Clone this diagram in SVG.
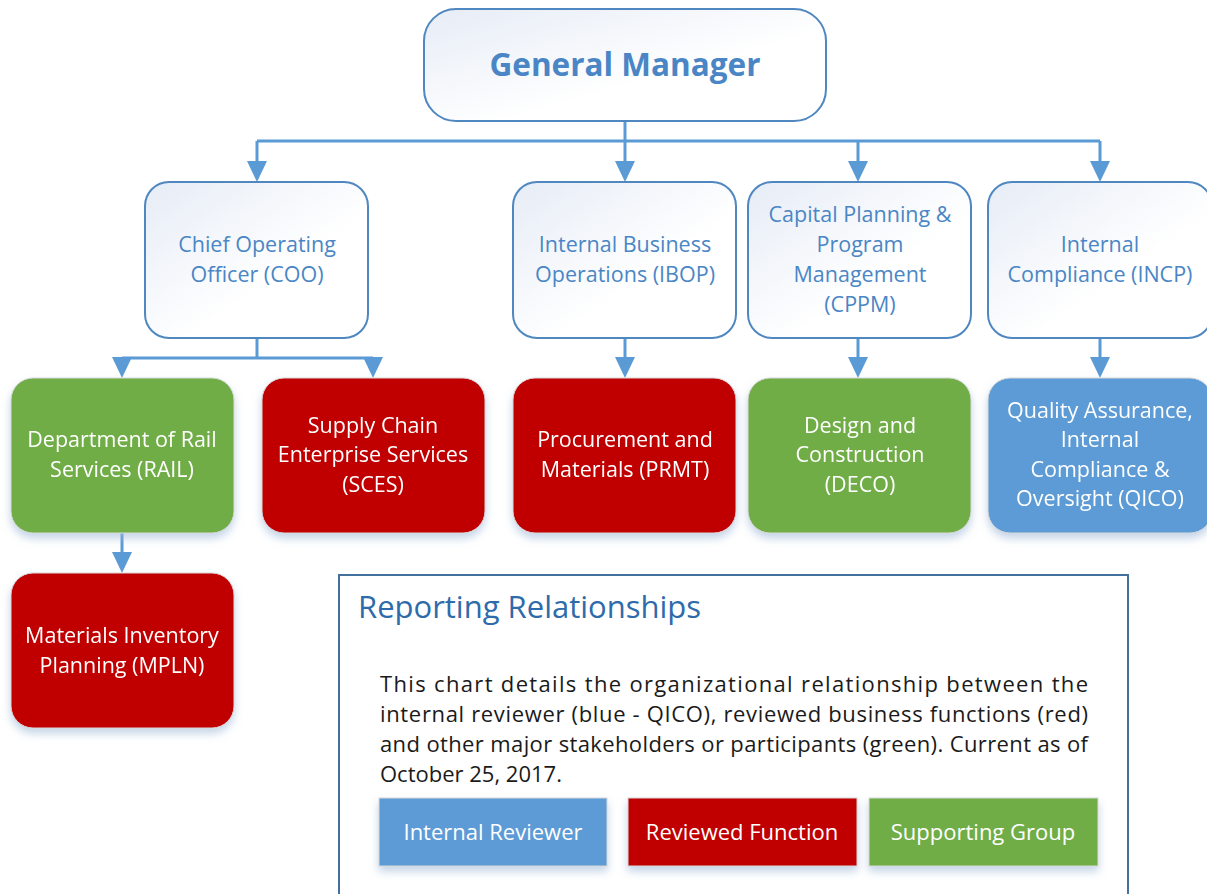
<svg xmlns="http://www.w3.org/2000/svg" width="1207" height="894" viewBox="0 0 1207 894">
<style>
.top{fill:url(#g);stroke:#4F87C0;stroke-width:2}
.tt{font-family:"Open Sans","Noto Sans",sans-serif;font-size:21.5px;fill:#4A86C5;text-anchor:middle}
.ct{font-family:"Open Sans","Noto Sans",sans-serif;font-size:21.5px;fill:#fff;text-anchor:middle}
.lt{font-family:"Open Sans","Noto Sans",sans-serif;font-size:22px;fill:#fff;text-anchor:middle}
.red{fill:#C00000;stroke:#D9D9D9;stroke-width:1}
.grn{fill:#70AD47;stroke:#D9D9D9;stroke-width:1}
.blu{fill:#5B9BD5;stroke:#D9D9D9;stroke-width:1}
.ln{fill:none;stroke:#5B9BD5;stroke-width:3}
.para{font-family:"Open Sans","Noto Sans",sans-serif;font-size:22px;fill:#1a1a1a}
</style>
<defs>
<linearGradient id="g" x1="0" y1="0" x2="1" y2="1">
<stop offset="0" stop-color="#E6ECF6"/>
<stop offset="0.6" stop-color="#FFFFFF"/>
</linearGradient>
<filter id="sh" x="-10%" y="-10%" width="120%" height="130%">
<feGaussianBlur in="SourceAlpha" stdDeviation="4"/>
<feOffset dx="0" dy="5" result="b"/>
<feFlood flood-color="#9DB7D8" flood-opacity="0.6"/>
<feComposite in2="b" operator="in"/>
<feMerge><feMergeNode/><feMergeNode in="SourceGraphic"/></feMerge>
</filter>
</defs>
<rect width="1207" height="894" fill="#fff"/>
<g id="connectors">
<path class="ln" d="M625,121 V141 M257,141 H1100"/>
<path class="ln" d="M257,141 V164 M625,141 V164 M858,141 V164 M1100,141 V164"/>
<path class="ln" d="M257,338 V358 M122,358 H373"/>
<path class="ln" d="M625,338 V360 M858,338 V360 M1100,338 V360 M122,533 V555"/>
<g fill="#5B9BD5">
<path d="M247,161 H267 L257,182 Z"/><path d="M615,161 H635 L625,182 Z"/><path d="M848,161 H868 L858,182 Z"/><path d="M1090,161 H1110 L1100,182 Z"/>
<path d="M112,357 H132 L122,378 Z"/><path d="M363,357 H383 L373,378 Z"/><path d="M615,357 H635 L625,378 Z"/><path d="M848,357 H868 L858,378 Z"/><path d="M1090,357 H1110 L1100,378 Z"/>
<path d="M112,552 H132 L122,573 Z"/>
</g>
</g>
<g id="gm">
<rect class="top" x="424" y="9" width="402" height="112" rx="32"/>
<text x="625" y="76" text-anchor="middle" font-family="'Open Sans','Noto Sans',sans-serif" font-size="31.5" font-weight="bold" fill="#4A86C5">General Manager</text>
</g>
<g id="coo">
<rect class="top" x="145" y="182" width="223" height="156" rx="24"/>
<text class="tt" x="257" y="252">Chief Operating</text>
<text class="tt" x="257" y="282">Officer (COO)</text>
</g>
<g id="ibop">
<rect class="top" x="513" y="182" width="223" height="156" rx="24"/>
<text class="tt" x="625" y="252">Internal Business</text>
<text class="tt" x="625" y="282">Operations (IBOP)</text>
</g>
<g id="cppm">
<rect class="top" x="748" y="182" width="223" height="156" rx="24"/>
<text class="tt" x="860" y="222">Capital Planning &amp;</text>
<text class="tt" x="860" y="252">Program</text>
<text class="tt" x="860" y="282">Management</text>
<text class="tt" x="860" y="312">(CPPM)</text>
</g>
<g id="incp">
<rect class="top" x="988" y="182" width="224" height="156" rx="24"/>
<text class="tt" x="1100" y="252">Internal</text>
<text class="tt" x="1100" y="282">Compliance (INCP)</text>
</g>
<g id="rail" filter="url(#sh)">
<rect class="grn" x="11" y="378" width="223" height="155" rx="22"/>
<text class="ct" x="122" y="447">Department of Rail</text>
<text class="ct" x="122" y="477">Services (RAIL)</text>
</g>
<g id="sces" filter="url(#sh)">
<rect class="red" x="262" y="378" width="223" height="155" rx="22"/>
<text class="ct" x="373" y="433">Supply Chain</text>
<text class="ct" x="373" y="462">Enterprise Services</text>
<text class="ct" x="373" y="492">(SCES)</text>
</g>
<g id="prmt" filter="url(#sh)">
<rect class="red" x="513" y="378" width="223" height="155" rx="22"/>
<text class="ct" x="625" y="447">Procurement and</text>
<text class="ct" x="625" y="477">Materials (PRMT)</text>
</g>
<g id="deco" filter="url(#sh)">
<rect class="grn" x="748" y="378" width="223" height="155" rx="22"/>
<text class="ct" x="860" y="433">Design and</text>
<text class="ct" x="860" y="462">Construction</text>
<text class="ct" x="860" y="492">(DECO)</text>
</g>
<g id="qico" filter="url(#sh)">
<rect class="blu" x="988" y="378" width="224" height="155" rx="22"/>
<text class="ct" x="1100" y="418">Quality Assurance,</text>
<text class="ct" x="1100" y="447">Internal</text>
<text class="ct" x="1100" y="477">Compliance &amp;</text>
<text class="ct" x="1100" y="506">Oversight (QICO)</text>
</g>
<g id="mpln" filter="url(#sh)">
<rect class="red" x="11" y="573" width="223" height="155" rx="22"/>
<text class="ct" x="122" y="643">Materials Inventory</text>
<text class="ct" x="122" y="673">Planning (MPLN)</text>
</g>
<g id="legend">
<rect x="339" y="575" width="789" height="330" fill="#fff" stroke="#41719C" stroke-width="2"/>
<text x="358" y="618" font-family="'Open Sans','Noto Sans',sans-serif" font-size="31" fill="#2E6BAA">Reporting Relationships</text>
<text class="para" x="380" y="692" textLength="708" lengthAdjust="spacing">This chart details the organizational relationship between the</text>
<text class="para" x="380" y="722" textLength="708" lengthAdjust="spacing">internal reviewer (blue - QICO), reviewed business functions (red)</text>
<text class="para" x="380" y="752" textLength="708" lengthAdjust="spacing">and other major stakeholders or participants (green). Current as of</text>
<text class="para" x="380" y="782">October 25, 2017.</text>
<g filter="url(#sh)">
<rect class="blu" x="379" y="798" width="228" height="68"/>
<rect class="red" x="628" y="798" width="229" height="68"/>
<rect class="grn" x="869" y="798" width="229" height="68"/>
</g>
<text class="lt" x="493" y="840">Internal Reviewer</text>
<text class="lt" x="742" y="840">Reviewed Function</text>
<text class="lt" x="983" y="840">Supporting Group</text>
</g>
</svg>
